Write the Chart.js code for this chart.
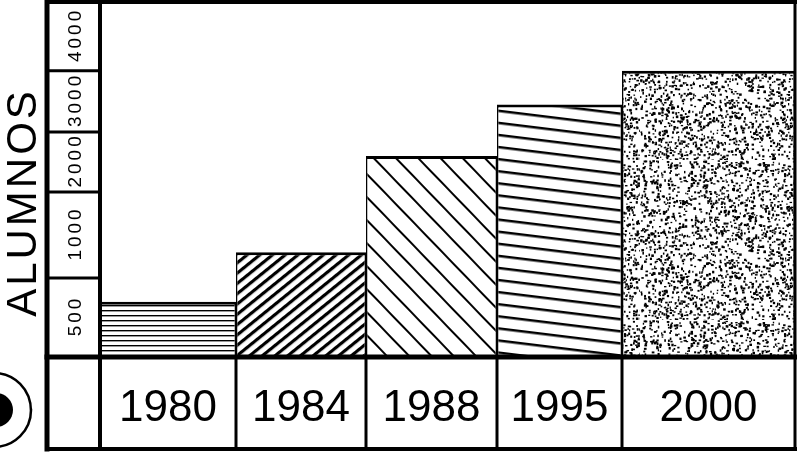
<!DOCTYPE html>
<html lang="es">
<head>
<meta charset="utf-8">
<title>Alumnos por año</title>
<script src="https://cdn.jsdelivr.net/npm/chart.js@4.4.1/dist/chart.umd.min.js"></script>
<style>
  html, body { margin: 0; padding: 0; background: #fff; }
  #chartAlumnos { display: block; }
</style>
</head>
<body>
<canvas id="chartAlumnos" width="797" height="460"></canvas>
<script>
// Datos de la gráfica
const ANIOS = ['1980', '1984', '1988', '1995', '2000'];
const ALUMNOS = [350, 650, 1600, 2450, 3000];
const MARCAS_Y = [500, 1000, 2000, 3000, 4000];

(function() {
  'use strict';

  // Configuración de dibujo (no son datos)
  const config = {
    canvasId: 'chartAlumnos',
    fuente: '"Liberation Sans", "DejaVu Sans", sans-serif',
    // escala vertical quebrada: valor -> fracción de la altura
    tramosY: [[0, 0], [500, 0.2225], [1000, 0.465], [2000, 0.634], [3000, 0.806], [4000, 1]],
    // anchos relativos de cada columna de año
    anchosCol: [136, 130, 131, 125, 173]
  };

  const suma = arr => arr.reduce((a, b) => a + b, 0);

  function fraccionTramo(v) {
    const t = config.tramosY;
    for (let i = 1; i < t.length; i++) {
      const [v0, f0] = t[i - 1];
      const [v1, f1] = t[i];
      if (v <= v1 || i === t.length - 1) {
        return f0 + (v - v0) / (v1 - v0) * (f1 - f0);
      }
    }
    return 0;
  }

  function valorTramo(f) {
    const t = config.tramosY;
    for (let i = 1; i < t.length; i++) {
      const [v0, f0] = t[i - 1];
      const [v1, f1] = t[i];
      if (f <= f1 || i === t.length - 1) {
        return v0 + (f - f0) / (f1 - f0) * (v1 - v0);
      }
    }
    return 0;
  }

  // Eje Y con tramos de distinta escala
  class EscalaTramos extends Chart.LinearScale {
    getPixelForValue(value) {
      return this.getPixelForDecimal(fraccionTramo(+value));
    }
    getValueForPixel(pixel) {
      return valorTramo(this.getDecimalForPixel(pixel));
    }
  }
  EscalaTramos.id = 'tramos';
  EscalaTramos.defaults = Chart.LinearScale.defaults;

  // Eje X de categorías con columnas de ancho distinto
  class EscalaColumnas extends Chart.CategoryScale {
    getPixelForValue(value) {
      if (typeof value !== 'number') value = this.parse(value);
      if (value === null || isNaN(value)) return NaN;
      const anchos = config.anchosCol;
      const antes = suma(anchos.slice(0, value));
      return this.getPixelForDecimal((antes + anchos[value] / 2) / suma(anchos));
    }
    getBordes() {
      const anchos = config.anchosCol;
      const total = suma(anchos);
      const bordes = [this.getPixelForDecimal(0)];
      let acc = 0;
      anchos.forEach(w => {
        acc += w;
        bordes.push(this.getPixelForDecimal(acc / total));
      });
      return bordes;
    }
  }
  EscalaColumnas.id = 'columnas';
  EscalaColumnas.defaults = Chart.CategoryScale.defaults;

  Chart.register(EscalaTramos, EscalaColumnas);

  // Tramas de relleno
  function patronLineas(ctx, espacio, grosor, angulo) {
    const c = document.createElement('canvas');
    c.width = 16;
    c.height = espacio;
    const g = c.getContext('2d');
    g.fillStyle = '#fff';
    g.fillRect(0, 0, 16, espacio);
    g.fillStyle = '#000';
    g.fillRect(0, 0, 16, grosor);
    const p = ctx.createPattern(c, 'repeat');
    p.setTransform(new DOMMatrix().rotateSelf(angulo));
    return p;
  }

  function patronPuntos(ctx, lado, cantidad) {
    const c = document.createElement('canvas');
    c.width = lado;
    c.height = lado;
    const g = c.getContext('2d');
    g.fillStyle = '#fff';
    g.fillRect(0, 0, lado, lado);
    g.fillStyle = '#000';
    let semilla = 12345;
    const rnd = () => {
      semilla = (semilla * 1103515245 + 12345) % 2147483648;
      return semilla / 2147483648;
    };
    for (let i = 0; i < cantidad; i++) {
      const x = rnd() * lado;
      const y = rnd() * lado;
      const w = 1.2 + rnd() * 1.5;
      const h = 1.2 + rnd() * 1.5;
      g.fillRect(x, y, w, h);
    }
    return ctx.createPattern(c, 'repeat');
  }

  // Marco, caja de marcas del eje Y, título y círculo
  const pluginMarco = {
    id: 'marco',
    beforeDraw(chart) {
      const ctx = chart.ctx;
      ctx.save();
      ctx.fillStyle = '#fff';
      ctx.fillRect(0, 0, chart.width, chart.height);
      ctx.restore();
    },
    afterDraw(chart) {
      const ctx = chart.ctx;
      const area = chart.chartArea;
      const sx = chart.scales.x;
      const sy = chart.scales.y;
      const izq = 47;
      const abajo = 449;
      const linea = (x1, y1, x2, y2, w) => {
        ctx.lineWidth = w;
        ctx.beginPath();
        ctx.moveTo(x1, y1);
        ctx.lineTo(x2, y2);
        ctx.stroke();
      };

      ctx.save();
      ctx.strokeStyle = '#000';
      ctx.fillStyle = '#000';
      ctx.lineCap = 'square';

      // marco exterior
      linea(izq, 2, area.right, 2, 4);
      linea(izq, 2, izq, abajo, 5);
      linea(area.right, 2, area.right, abajo, 3);
      linea(izq, abajo, area.right, abajo, 4);
      // separador columna de marcas / gráfica y fila de años
      linea(area.left, 2, area.left, abajo, 4);
      linea(izq, area.bottom, area.right, area.bottom, 5);

      // divisiones de la fila de años
      sx.getBordes().slice(1, -1).forEach(x => linea(x, area.bottom, x, abajo, 3));

      // divisiones y textos del eje Y
      ctx.font = '19px ' + config.fuente;
      ctx.letterSpacing = '3px';
      ctx.textAlign = 'center';
      ctx.textBaseline = 'middle';
      MARCAS_Y.forEach((v, i) => {
        const arriba = sy.getPixelForValue(v);
        const base = sy.getPixelForValue(i ? MARCAS_Y[i - 1] : 0);
        if (i < MARCAS_Y.length - 1) linea(izq, arriba, area.left, arriba, 3);
        ctx.save();
        ctx.translate(76, (arriba + base) / 2);
        ctx.rotate(-Math.PI / 2);
        ctx.fillText(String(v), 1.5, 0);
        ctx.restore();
      });

      // título vertical
      ctx.font = '42px ' + config.fuente;
      ctx.letterSpacing = '3px';
      ctx.save();
      ctx.translate(24, 204);
      ctx.rotate(-Math.PI / 2);
      ctx.fillText('ALUMNOS', 1.5, 0);
      ctx.restore();
      ctx.letterSpacing = '0px';

      // círculo con punto
      ctx.lineWidth = 2.5;
      ctx.beginPath();
      ctx.arc(-6, 410, 37, 0, Math.PI * 2);
      ctx.stroke();
      ctx.beginPath();
      ctx.arc(-4, 410, 17, 0, Math.PI * 2);
      ctx.fill();

      ctx.restore();
    }
  };

  function render() {
    const canvas = document.getElementById(config.canvasId);
    const ctx = canvas.getContext('2d');

    const tramas = [
      patronLineas(ctx, 5, 1.4, 0),
      patronLineas(ctx, 8, 3.2, -39),
      patronLineas(ctx, 16, 2, 46),
      patronLineas(ctx, 12, 2.5, 7),
      patronPuntos(ctx, 160, 1900)
    ];

    // separación mínima entre centros, para repartir el ancho de cada barra
    const anchos = config.anchosCol;
    const minPaso = Math.min(...anchos.slice(1).map((w, j) => (w + anchos[j]) / 2));

    new Chart(ctx, {
      type: 'bar',
      data: {
        labels: ANIOS,
        datasets: ANIOS.map((anio, i) => ({
          label: anio,
          data: [{ x: anio, y: ALUMNOS[i] }],
          backgroundColor: tramas[i],
          borderColor: '#000',
          borderWidth: { top: 3, left: 1.5, right: 1.5, bottom: 0 },
          grouped: false,
          categoryPercentage: 1,
          barPercentage: anchos[i] / minPaso,
          inflateAmount: 0
        }))
      },
      options: {
        responsive: false,
        animation: false,
        events: [],
        devicePixelRatio: 1,
        layout: { padding: { left: 100, right: 2, top: 2, bottom: 11 } },
        plugins: {
          legend: { display: false },
          tooltip: { enabled: false }
        },
        scales: {
          x: {
            type: 'columnas',
            grid: { display: false, drawTicks: false },
            border: { display: false },
            ticks: {
              color: '#000',
              font: { family: config.fuente, size: 44 },
              padding: 25,
              autoSkip: false,
              minRotation: 0,
              maxRotation: 0
            },
            afterFit(scale) {
              scale.height = 92;
            }
          },
          y: {
            type: 'tramos',
            display: false,
            min: 0,
            max: 4000
          }
        }
      },
      plugins: [pluginMarco]
    });
  }

  render();
})();
</script>
</body>
</html>
